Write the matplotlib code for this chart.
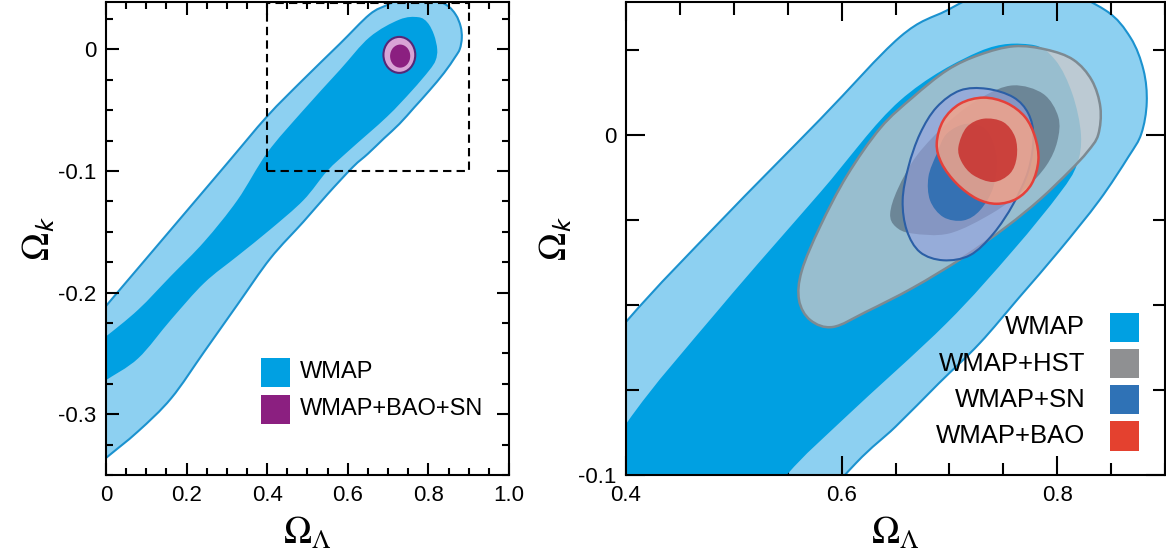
import matplotlib
matplotlib.use("Agg")
import matplotlib.pyplot as plt
from matplotlib.patches import PathPatch, Rectangle, Ellipse
from matplotlib.path import Path
from matplotlib.ticker import MultipleLocator
from matplotlib.colors import to_rgba

plt.rcParams['font.family'] = ['Liberation Sans', 'DejaVu Sans']
plt.rcParams['mathtext.fontset'] = 'stix'
plt.rcParams['axes.unicode_minus'] = False

# contour outlines in (Omega_Lambda, Omega_k)
wmap95_x = [-0.02, 0.0, 0.1, 0.2, 0.3, 0.4, 0.487, 0.58, 0.654, 0.6975, 0.74, 0.80, 0.845, 0.868,
            0.880, 0.883, 0.878, 0.866, 0.839, 0.802, 0.765, 0.728, 0.690, 0.650, 0.613, 0.55,
            0.49, 0.408, 0.326, 0.244, 0.162, 0.08, 0.0, -0.02]
wmap95_y = [-0.219, -0.211, -0.172, -0.133, -0.094, -0.055, -0.0256, 0.0045, 0.0287, 0.0365, 0.0425, 0.0425,
            0.0365, 0.0285, 0.0190, 0.0095, 0.0003, -0.0065, -0.0193, -0.034, -0.0477, -0.0613, -0.0731,
            -0.0858, -0.0966, -0.119, -0.1417, -0.1718, -0.210, -0.2485, -0.2868, -0.314, -0.336, -0.342]

wmap68_x = [-0.02, 0.0, 0.08, 0.162, 0.244, 0.326, 0.4, 0.487, 0.58, 0.654, 0.728, 0.775, 0.798, 0.814,
            0.822, 0.818, 0.802, 0.759, 0.697, 0.604, 0.549, 0.49, 0.408, 0.326, 0.244, 0.162, 0.08,
            0.0, -0.02]
wmap68_y = [-0.240, -0.236, -0.214, -0.186, -0.158, -0.124, -0.085, -0.051, -0.017, 0.010, 0.0245, 0.0265,
            0.022, 0.012, 0.0, -0.009, -0.0173, -0.034, -0.0555, -0.0829, -0.1, -0.124, -0.148, -0.170,
            -0.192, -0.222, -0.254, -0.272, -0.277]

hst95_x = [0.5605, 0.563, 0.580, 0.605, 0.636, 0.666, 0.698, 0.728, 0.760, 0.790, 0.815, 0.832, 0.840,
           0.838, 0.828, 0.812, 0.784, 0.753, 0.713, 0.666, 0.623, 0.592, 0.571]
hst95_y = [-0.0486, -0.040, -0.027, -0.012, 0.002, 0.011, 0.019, 0.0235, 0.026, 0.025, 0.022, 0.016,
           0.008, 0.0, -0.005, -0.0105, -0.019, -0.027, -0.036, -0.045, -0.052, -0.0565, -0.0545]

hst68_x = [0.645, 0.652, 0.670, 0.700, 0.730, 0.759, 0.787, 0.801, 0.800, 0.790, 0.770, 0.740, 0.700,
           0.665, 0.650]
hst68_y = [-0.0232, -0.016, -0.006, 0.004, 0.011, 0.0145, 0.012, 0.0052, -0.002, -0.009, -0.016,
           -0.023, -0.029, -0.029, -0.027]

sn95_x = [0.7098, 0.7346, 0.7593, 0.7732, 0.7779, 0.7732, 0.7593, 0.7407, 0.7191, 0.6943, 0.6727,
          0.6604, 0.6566, 0.6619, 0.6727, 0.6882]
sn95_y = [0.0130, 0.0135, 0.0110, 0.0062, -0.0007, -0.0105, -0.0203, -0.0291, -0.0354, -0.0369,
          -0.0345, -0.0281, -0.0193, -0.0095, 0.0003, 0.0081]

sn68_x = [0.6882, 0.6805, 0.682, 0.6943, 0.7129, 0.7284, 0.7407, 0.7438, 0.7346, 0.716, 0.6975]
sn68_y = [-0.0056, -0.0124, -0.0193, -0.0242, -0.0252, -0.0222, -0.0154, -0.0066, 0.0013, 0.0032, 0.0003]

bao95_x = [0.6882, 0.6943, 0.7098, 0.7315, 0.7531, 0.7701, 0.7794, 0.7825, 0.7763, 0.7624, 0.7438,
           0.7253, 0.7068, 0.6929]
bao95_y = [-0.0026, 0.0042, 0.0091, 0.0109, 0.0093, 0.0052, -0.0007, -0.0075, -0.0144, -0.0188,
           -0.0203, -0.0188, -0.0144, -0.0085]

bao68_x = [0.7083, 0.716, 0.7315, 0.750, 0.7609, 0.7624, 0.7562, 0.7407, 0.7221, 0.7113]
bao68_y = [-0.0036, 0.0022, 0.0047, 0.0037, -0.0007, -0.0066, -0.0114, -0.0139, -0.0119, -0.008]

# WMAP+BAO+SN (left panel): centre and full extents
baosn_center = (0.728, -0.0045)
baosn95_size = (0.079, 0.0296)
baosn68_size = (0.050, 0.019)

left_xticks = [0, 0.2, 0.4, 0.6, 0.8, 1.0]
left_xticklabels = ['0', '0.2', '0.4', '0.6', '0.8', '1.0']
left_yticks = [-0.3, -0.2, -0.1, 0]
left_yticklabels = ['-0.3', '-0.2', '-0.1', '0']
right_xticks = [0.4, 0.6, 0.8]
right_xticklabels = ['0.4', '0.6', '0.8']
right_yticks = [-0.1, 0]
right_yticklabels = ['-0.1', '0']

left_legend = ['WMAP', 'WMAP+BAO+SN']
right_legend = ['WMAP', 'WMAP+HST', 'WMAP+SN', 'WMAP+BAO']

C_W95, C_W95E, C_W68 = '#8DD0F1', '#1B92CF', '#00A0E2'


def outline(xs, ys):
    # closed smooth curve through the read points (cubic Bezier segments)
    n = len(xs)
    verts, codes = [(xs[0], ys[0])], [Path.MOVETO]
    for i in range(n):
        x0, y0 = xs[i - 1], ys[i - 1]
        x1, y1 = xs[i], ys[i]
        x2, y2 = xs[(i + 1) % n], ys[(i + 1) % n]
        x3, y3 = xs[(i + 2) % n], ys[(i + 2) % n]
        verts += [(x1 + (x2 - x0) / 6, y1 + (y2 - y0) / 6),
                  (x2 - (x3 - x1) / 6, y2 - (y3 - y1) / 6),
                  (x2, y2)]
        codes += [Path.CURVE4] * 3
    return Path(verts, codes)


def fill(ax, xs, ys, face, alpha=1.0, edge='none', lw=0.0, z=1):
    ax.add_patch(PathPatch(outline(xs, ys), facecolor=to_rgba(face, alpha),
                           edgecolor=edge, linewidth=lw, joinstyle='round', zorder=z))


def style(ax, xmin, maj_len, min_len):
    ax.tick_params(which='both', direction='in', top=True, right=True, width=1.5,
                   labelsize=16, pad=7)
    ax.tick_params(which='major', length=maj_len)
    ax.tick_params(which='minor', length=min_len)
    ax.xaxis.set_minor_locator(MultipleLocator(xmin))
    ax.yaxis.set_minor_locator(MultipleLocator(0.025))
    for s in ax.spines.values():
        s.set_linewidth(1.5)


fig = plt.figure(figsize=(11.66, 5.54), dpi=100)
ax1 = fig.add_axes([0.0909, 0.1426, 0.3456, 0.8538])
ax2 = fig.add_axes([0.5369, 0.1426, 0.4623, 0.8538])

for ax in (ax1, ax2):
    fill(ax, wmap95_x, wmap95_y, C_W95, edge=C_W95E, lw=1.5, z=1)
    fill(ax, wmap68_x, wmap68_y, C_W68, z=2)

# left panel
ax1.add_patch(Ellipse(baosn_center, *baosn95_size, facecolor='#D9A3D6', edgecolor='#552878',
                      linewidth=1.5, zorder=3))
ax1.add_patch(Ellipse((baosn_center[0] + 0.002, baosn_center[1] - 0.001), *baosn68_size,
                      facecolor='#8B1F80', edgecolor='none', zorder=4))
ax1.add_patch(Rectangle((0.4, -0.1), 0.5, 0.138, fill=False, edgecolor='k', linewidth=1.5,
                        linestyle=(0, (4, 2.5)), zorder=5))
ax1.set_xlim(0, 1.0)
ax1.set_ylim(-0.35, 0.039)
ax1.set_xticks(left_xticks)
ax1.set_xticklabels(left_xticklabels)
ax1.set_yticks(left_yticks)
ax1.set_yticklabels(left_yticklabels)
style(ax1, 0.05, 9, 5)

# right panel
fill(ax2, hst95_x, hst95_y, (0.80, 0.79, 0.79), alpha=0.75, edge='#7D8A92', lw=1.8, z=3)
fill(ax2, hst68_x, hst68_y, '#61798A', alpha=0.8, z=4)
fill(ax2, sn95_x, sn95_y, (0.59, 0.63, 0.88), alpha=0.6, edge='#2B5FA6', lw=1.5, z=5)
fill(ax2, sn68_x, sn68_y, '#2C6DB2', alpha=0.9, z=6)
fill(ax2, bao95_x, bao95_y, '#F2A48A', alpha=0.85, edge='#E5403A', lw=1.8, z=7)
fill(ax2, bao68_x, bao68_y, '#C8302D', alpha=0.85, z=8)
ax2.set_xlim(0.4, 0.9)
ax2.set_ylim(-0.1, 0.039)
ax2.set_xticks(right_xticks)
ax2.set_xticklabels(right_xticklabels)
ax2.set_yticks(right_yticks)
ax2.set_yticklabels(right_yticklabels)
style(ax2, 0.05, 14, 9)

for ax, pad in ((ax1, 0), (ax2, 2)):
    ax.set_xlabel(r'$\Omega_\Lambda$', fontsize=27, labelpad=7)
    ax.set_ylabel(r'$\Omega_\mathsf{k}$', fontsize=27, labelpad=pad)

# legends
for i, (lab, col) in enumerate(zip(left_legend, [C_W68, '#8B1F80'])):
    yc = 0.2167 - i * 0.078
    ax1.add_patch(Rectangle((0.385, yc - 0.031), 0.072, 0.062, transform=ax1.transAxes,
                            facecolor=col, edgecolor='none', zorder=10))
    ax1.text(0.481, yc, lab, transform=ax1.transAxes, fontsize=17, va='center', ha='left', zorder=10)

for i, (lab, col) in enumerate(zip(right_legend, [C_W68, '#8F9092', '#2F72B6', '#E4412F'])):
    yc = 0.312 - i * 0.0765
    ax2.add_patch(Rectangle((0.898, yc - 0.031), 0.054, 0.062, transform=ax2.transAxes,
                            facecolor=col, edgecolor='none', zorder=10))
    ax2.text(0.852, yc, lab, transform=ax2.transAxes, fontsize=18.5, va='center', ha='right', zorder=10)

fig.savefig('out.png', dpi=100)
